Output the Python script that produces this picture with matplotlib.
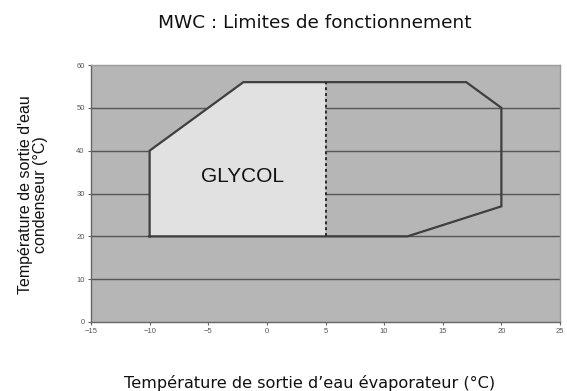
import matplotlib
matplotlib.use("Agg")
import matplotlib.pyplot as plt
from matplotlib.patches import Polygon

plt.rcParams['font.family'] = ['Liberation Sans', 'DejaVu Sans']

# Operating envelope (evaporator outlet °C, condenser outlet °C)
envelope_x = [-10, -10, -2, 17, 20, 20, 12, -10]
envelope_y = [20, 40, 56, 56, 50, 27, 20, 20]

# Glycol zone, bounded on the right by the 5 °C evaporator limit
glycol_x = [-10, -10, -2, 5, 5]
glycol_y = [20, 40, 56, 56, 20]
glycol_limit_x = [5, 5]
glycol_limit_y = [20, 56]

x_ticks = [-15, -10, -5, 0, 5, 10, 15, 20, 25]
y_ticks = [0, 10, 20, 30, 40, 50, 60]

fig = plt.figure(figsize=(5.67, 3.91), dpi=100)
ax = fig.add_axes([91/567, 1 - 322/391, 469/567, 257/391])
ax.set_facecolor('#b6b6b6')
ax.set_xlim(-15, 25)
ax.set_ylim(0, 60)

for y in y_ticks[1:-1]:
    ax.axhline(y, color='#555555', lw=1.0, zorder=1)

ax.add_patch(Polygon(list(zip(glycol_x, glycol_y)), closed=True,
                     facecolor='#e1e1e1', edgecolor='none', zorder=2))
ax.plot(envelope_x, envelope_y, color='#3f3f3f', lw=1.6, zorder=3,
        solid_joinstyle='miter')
ax.plot(glycol_limit_x, glycol_limit_y, color='#2a2a2a', lw=1.4,
        ls=(0, (1.5, 1.5)), zorder=4)

ax.text(-2.1, 32.6, 'GLYCOL', ha='center', va='baseline', fontsize=15,
        color='#111111', zorder=5)

ax.set_xticks(x_ticks)
ax.set_yticks(y_ticks)
ax.tick_params(labelsize=5.5, colors='#666666', length=2.5, width=0.8,
               labelcolor='#555555', pad=2)
for side in ('top', 'right'):
    ax.spines[side].set_color('#9a9a9a')
    ax.spines[side].set_linewidth(1.0)
for side in ('left', 'bottom'):
    ax.spines[side].set_color('#666666')
    ax.spines[side].set_linewidth(1.0)

fig.text(315/567, 1 - 28.5/391, 'MWC : Limites de fonctionnement',
         ha='center', va='baseline', fontsize=13.3, color='#111111',
         family='DejaVu Sans')
fig.text(310/567, 1 - 388/391, 'Température de sortie d’eau évaporateur (°C)',
         ha='center', va='baseline', fontsize=11.6, color='#111111',
         family='DejaVu Sans')
fig.text(33/567, 1 - 195/391, "Température de sortie d'eau\ncondenseur (°C)",
         ha='center', va='center', rotation=90, fontsize=11.5,
         color='#111111', linespacing=1.05)

fig.savefig('out.png', dpi=100, facecolor='white')
